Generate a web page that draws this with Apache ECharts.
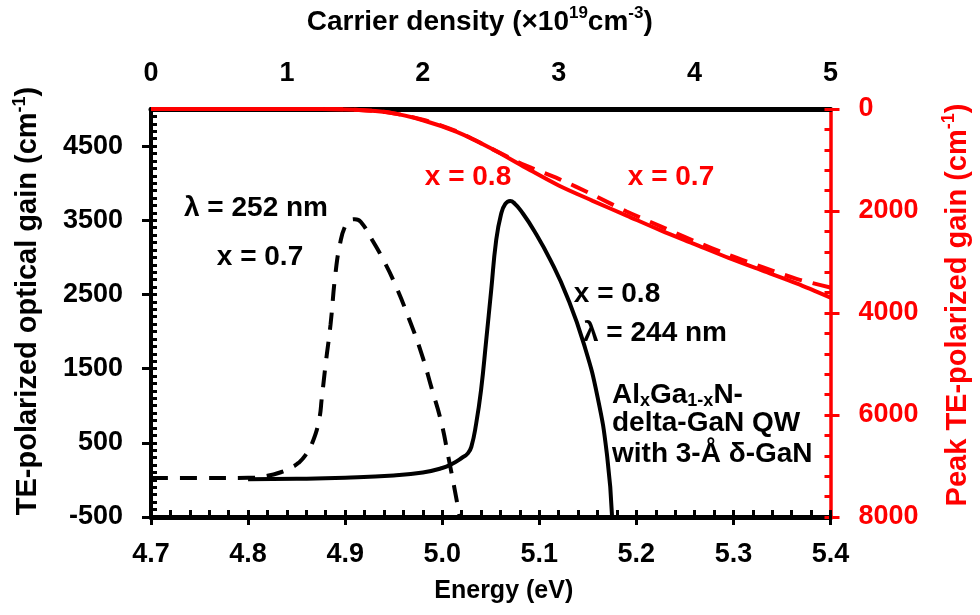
<!DOCTYPE html>
<html>
<head>
<meta charset="utf-8">
<script src="https://cdn.jsdelivr.net/npm/echarts@6/dist/echarts.min.js"></script>
<style>
  html, body { margin: 0; padding: 0; background: #ffffff; }
  #chart { width: 980px; height: 615px; }
</style>
</head>
<body>
<div id="chart"></div>
<script>
// TE gain spectrum, x = 0.7 well (lambda = 252 nm): photon energy (eV) / gain (cm^-1)
const energyX07 = [4.70, 4.75, 4.80, 4.82, 4.835, 4.845, 4.852, 4.859, 4.866, 4.873, 4.876, 4.880, 4.885, 4.890, 4.895, 4.900, 4.905, 4.910, 4.916, 4.928, 4.940, 4.951, 4.965, 4.979, 4.989, 4.999, 5.006, 5.013, 5.018];
const gainX07   = [25, 25, 28, 55, 110, 170, 230, 330, 494, 800, 1110, 1570, 2100, 2780, 3200, 3420, 3500, 3515, 3480, 3230, 2950, 2650, 2200, 1690, 1240, 780, 330, -140, -500];

// TE gain spectrum, x = 0.8 well (lambda = 244 nm)
const energyX08 = [4.80, 4.85, 4.90, 4.95, 4.98, 5.00, 5.01, 5.02, 5.0265, 5.030, 5.035, 5.040, 5.0453, 5.0504, 5.0555, 5.0606, 5.065, 5.070, 5.075, 5.081, 5.0947, 5.112, 5.129, 5.146, 5.160, 5.170, 5.175];
const gainX08   = [10, 15, 30, 60, 100, 160, 215, 295, 360, 445, 760, 1210, 1880, 2550, 3220, 3580, 3720, 3760, 3720, 3630, 3360, 2950, 2460, 1830, 1120, 310, -500];

// Peak TE gain (cm^-1) versus carrier density (1e19 cm^-3)
const carrierDensity = [0, 0.5, 1, 1.25, 1.5, 1.75, 2, 2.25, 2.5, 2.75, 3, 3.25, 3.5, 3.75, 4, 4.25, 4.5, 4.75, 5];
const peakGainX08    = [0, 0, 0, 0, 15, 70, 220, 450, 770, 1140, 1500, 1800, 2090, 2380, 2650, 2920, 3170, 3420, 3700];
const peakGainX07    = [0, 0, 0, 0, 15, 70, 210, 440, 770, 1100, 1370, 1680, 2010, 2300, 2590, 2860, 3100, 3330, 3500];

// Tick labels
const energyTicks  = [4.7, 4.8, 4.9, 5.0, 5.1, 5.2, 5.3, 5.4];
const gainTicks    = [-500, 500, 1500, 2500, 3500, 4500];
const densityTicks = [0, 1, 2, 3, 4, 5];
const peakTicks    = [0, 2000, 4000, 6000, 8000];

const FONT = '"Liberation Sans", Arial, sans-serif';
const RED = '#ff0000';
const BLACK = '#000000';

function pairs(xs, ys) { return xs.map((x, i) => [x, ys[i]]); }
function steps(a, b, s) {
  const out = [];
  const n = Math.round((b - a) / s);
  for (let i = 0; i <= n; i++) out.push(+(a + i * s).toFixed(4));
  return out;
}
function nameRich(color, size) {
  return {
    n: { fontSize: size, fontWeight: 'bold', fontFamily: FONT, color: color, lineHeight: 34 },
    s: { fontSize: Math.round(size * 0.62), fontWeight: 'bold', fontFamily: FONT, color: color, verticalAlign: 'top', lineHeight: 14 }
  };
}
const tickLabel = (color) => ({ fontSize: 27, fontWeight: 'bold', fontFamily: FONT, color: color, formatter: v => String(v) });

function minorAxis(extra) {
  return Object.assign({
    type: 'value',
    axisLine: { show: false, onZero: false },
    axisLabel: { show: false }, splitLine: { show: false }
  }, extra);
}

const chart = echarts.init(document.getElementById('chart'), null, { renderer: 'canvas' });

const option = {
  animation: false,
  backgroundColor: '#ffffff',
  grid: { left: 151, right: 145, top: 107, bottom: 98, containLabel: false },
  xAxis: [
    { // energy axis: labels and outward major ticks
      type: 'value', position: 'bottom', min: 4.7, max: 5.4,
      axisLine: { show: true, onZero: false, lineStyle: { color: BLACK, width: 5 } },
      axisTick: { show: true, customValues: energyTicks, inside: false, length: 8, lineStyle: { color: BLACK, width: 3 } },
      axisLabel: Object.assign(tickLabel(BLACK), { customValues: energyTicks, margin: 24, formatter: v => v.toFixed(1) }),
      splitLine: { show: false },
      name: 'Energy (eV)', nameLocation: 'middle', nameGap: 62,
      nameTextStyle: { fontSize: 25, fontWeight: 'bold', fontFamily: FONT, color: BLACK, padding: [0, 0, 0, 26] }
    },
    minorAxis({ // energy axis: inward minor ticks
      position: 'bottom', min: 4.7, max: 5.4,
      axisTick: { show: true, customValues: steps(4.7, 5.4, 0.02), inside: true, length: 7, lineStyle: { color: BLACK, width: 3 } }
    }),
    { // carrier density axis
      type: 'value', position: 'top', min: 0, max: 5,
      axisLine: { show: true, onZero: false, lineStyle: { color: BLACK, width: 5 } },
      axisTick: { show: false },
      axisLabel: Object.assign(tickLabel(BLACK), { customValues: densityTicks, margin: 22 }),
      splitLine: { show: false },
      name: '{n|Carrier density (×10}{s|19}{n|cm}{s|-3}{n|)}', nameLocation: 'middle', nameGap: 70,
      nameTextStyle: { rich: nameRich(BLACK, 28), padding: [0, 22, 0, 0] }
    }
  ],
  yAxis: [
    { // optical gain axis: labels and outward major ticks
      type: 'value', position: 'left', min: -500, max: 5000,
      axisLine: { show: true, onZero: false, lineStyle: { color: BLACK, width: 4 } },
      axisTick: { show: true, customValues: gainTicks, inside: false, length: 9, lineStyle: { color: BLACK, width: 3 } },
      axisLabel: Object.assign(tickLabel(BLACK), { customValues: gainTicks, margin: 28 }),
      splitLine: { show: false },
      name: '{n|TE-polarized optical gain (cm}{s|-1}{n|)}', nameLocation: 'middle', nameRotate: 90, nameGap: 106,
      nameTextStyle: { rich: nameRich(BLACK, 29), padding: [0, 0, 0, 24] }
    },
    minorAxis({ // optical gain axis: inward minor ticks
      position: 'left', min: -500, max: 5000,
      axisTick: { show: true, customValues: steps(-500, 5000, 100), inside: true, length: 6, lineStyle: { color: BLACK, width: 3 } }
    }),
    { // peak gain axis (downward)
      type: 'value', position: 'right', min: 0, max: 8000, inverse: true,
      axisLine: { show: true, onZero: false, lineStyle: { color: RED, width: 3.5 } },
      axisTick: { show: true, customValues: peakTicks, inside: false, length: 9, lineStyle: { color: RED, width: 3 } },
      axisLabel: Object.assign(tickLabel(RED), { customValues: peakTicks, margin: 28 }),
      splitLine: { show: false },
      name: '{n|Peak TE-polarized gain (cm}{s|-1}{n|)}', nameLocation: 'middle', nameRotate: 90, nameGap: 110,
      nameTextStyle: { rich: nameRich(RED, 29), padding: [0, 0, 0, 16] }
    },
    minorAxis({ // peak gain axis: inward minor ticks
      position: 'right', min: 0, max: 8000, inverse: true,
      axisTick: { show: true, customValues: steps(0, 8000, 400), inside: true, length: 6, lineStyle: { color: RED, width: 3 } }
    })
  ],
  series: [
    {
      name: 'x = 0.7 spectrum', type: 'line', xAxisIndex: 0, yAxisIndex: 0,
      data: pairs(energyX07, gainX07), showSymbol: false, smooth: 0.5,
      lineStyle: { color: BLACK, width: 4, type: [17, 12] }, z: 3
    },
    {
      name: 'x = 0.8 spectrum', type: 'line', xAxisIndex: 0, yAxisIndex: 0,
      data: pairs(energyX08, gainX08), showSymbol: false, smooth: 0.5,
      lineStyle: { color: BLACK, width: 4 }, z: 3
    },
    {
      name: 'x = 0.7 peak gain', type: 'line', xAxisIndex: 2, yAxisIndex: 2,
      data: pairs(carrierDensity, peakGainX07), showSymbol: false, smooth: 0.3,
      lineStyle: { color: RED, width: 4, type: [18, 11] }, z: 4
    },
    {
      name: 'x = 0.8 peak gain', type: 'line', xAxisIndex: 2, yAxisIndex: 2,
      data: pairs(carrierDensity, peakGainX08), showSymbol: false, smooth: 0.3,
      lineStyle: { color: RED, width: 4 }, z: 4
    }
  ],
  graphic: [
    { type: 'text', x: 256, y: 208, z: 10, style: { text: 'λ = 252 nm', font: 'bold 28px ' + FONT, fill: BLACK, align: 'center', verticalAlign: 'middle', textAlign: 'center', textVerticalAlign: 'middle' } },
    { type: 'text', x: 260, y: 257, z: 10, style: { text: 'x = 0.7', font: 'bold 28px ' + FONT, fill: BLACK, align: 'center', verticalAlign: 'middle', textAlign: 'center', textVerticalAlign: 'middle' } },
    { type: 'text', x: 468, y: 177, z: 10, style: { text: 'x = 0.8', font: 'bold 28px ' + FONT, fill: RED, align: 'center', verticalAlign: 'middle', textAlign: 'center', textVerticalAlign: 'middle' } },
    { type: 'text', x: 671, y: 177, z: 10, style: { text: 'x = 0.7', font: 'bold 28px ' + FONT, fill: RED, align: 'center', verticalAlign: 'middle', textAlign: 'center', textVerticalAlign: 'middle' } },
    { type: 'text', x: 617, y: 294, z: 10, style: { text: 'x = 0.8', font: 'bold 28px ' + FONT, fill: BLACK, align: 'center', verticalAlign: 'middle', textAlign: 'center', textVerticalAlign: 'middle' } },
    { type: 'text', x: 655, y: 333, z: 10, style: { text: 'λ = 244 nm', font: 'bold 28px ' + FONT, fill: BLACK, align: 'center', verticalAlign: 'middle', textAlign: 'center', textVerticalAlign: 'middle' } },
    { type: 'text', x: 612, y: 395, z: 10, style: {
        text: '{n|Al}{b|x}{n|Ga}{b|1-x}{n|N-}',
        align: 'left', verticalAlign: 'middle', textAlign: 'left', textVerticalAlign: 'middle',
        rich: {
          n: { fontSize: 28, fontWeight: 'bold', fontFamily: FONT, fill: BLACK, color: BLACK, lineHeight: 30 },
          b: { fontSize: 18, fontWeight: 'bold', fontFamily: FONT, fill: BLACK, color: BLACK, verticalAlign: 'bottom', lineHeight: 12 }
        } } },
    { type: 'text', x: 612, y: 423, z: 10, style: { text: 'delta-GaN QW', font: 'bold 28px ' + FONT, fill: BLACK, align: 'left', verticalAlign: 'middle', textAlign: 'left', textVerticalAlign: 'middle' } },
    { type: 'text', x: 612, y: 454, z: 10, style: { text: 'with 3-Å δ-GaN', font: 'bold 28px ' + FONT, fill: BLACK, align: 'left', verticalAlign: 'middle', textAlign: 'left', textVerticalAlign: 'middle' } }
  ]
};

chart.setOption(option);
</script>
</body>
</html>
